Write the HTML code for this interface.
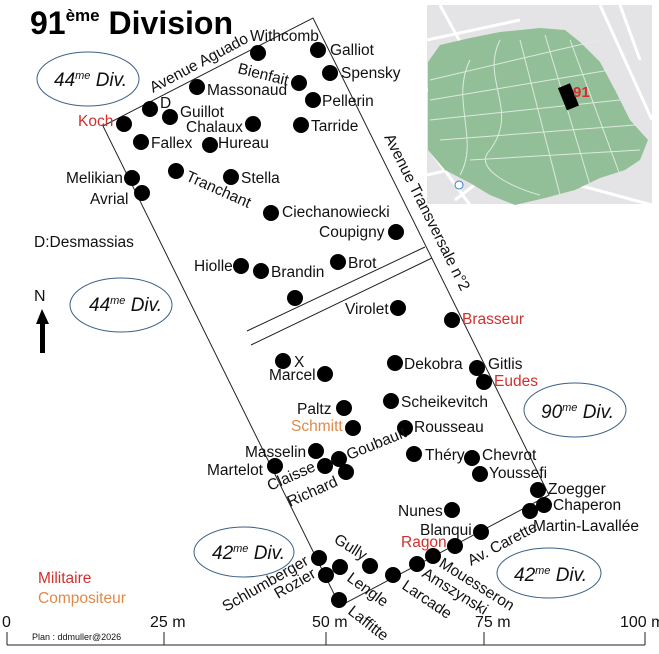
<!DOCTYPE html>
<html><head><meta charset="utf-8"><style>
html,body{margin:0;padding:0;background:#fff}
svg{display:block}
text{font-family:"Liberation Sans",sans-serif;font-size:15.5px;fill:#111}
.r{fill:#d0312d}.o{fill:#e08a4a}
</style></head><body>
<svg width="659" height="654" viewBox="0 0 659 654" xmlns="http://www.w3.org/2000/svg">
<rect width="659" height="654" fill="#fff"/>
<!-- inset map -->
<rect x="427" y="5" width="225" height="199" fill="#e4e4e6"/>
<g stroke="#fff" stroke-width="3" fill="none">
<path d="M427 40 L520 20 M430 150 L470 205 M600 5 L652 120 M427 175 L470 165 M560 180 L652 205 M440 5 L470 60 M620 5 L640 60 M427 90 L440 88 M455 200 L520 150"/>
</g>
<polygon points="428,62 440,45 470,38 500,32 540,28 565,30 580,42 600,62 615,90 630,120 648,140 640,160 625,170 600,178 575,190 545,198 515,205 490,195 470,183 445,170 428,150" fill="#93bf98"/>
<g stroke="#e3eee3" stroke-width="1" fill="none" opacity="0.9">
<path d="M430 80 L600 40 M430 100 L610 70 M430 120 L620 100 M440 140 L635 125 M470 160 L640 150 M520 40 L560 195 M545 35 L590 185 M570 40 L620 175 M500 40 C480 80 520 110 490 150 C470 170 520 190 540 195 M470 60 C450 100 480 140 460 175"/>
</g>
<rect x="562" y="85" width="13" height="24" fill="#000" transform="rotate(-22 568 97)"/>
<text x="573" y="97" style="font-size:15px;font-weight:bold;fill:#d0312d">91</text>
<circle cx="459" cy="185" r="4" fill="#fff" stroke="#3a7bd5"/>

<!-- title -->
<text x="30" y="34" style="font-size:32px;font-weight:bold;fill:#000">91<tspan dy="-13" style="font-size:17px">ème</tspan><tspan dy="13"> Division</tspan></text>

<!-- plot outline -->
<g stroke="#222" stroke-width="1" fill="none">
<path d="M103 126 L313 18 L549 495 L340 606 Z"/>
<path d="M247 331 L425 247 M251 345 L432 258"/>
</g>

<!-- ellipses -->
<g fill="none" stroke="#3d5f85" stroke-width="1">
<ellipse cx="88" cy="79" rx="51" ry="27"/>
<ellipse cx="121" cy="305" rx="51" ry="27"/>
<ellipse cx="575" cy="410" rx="51" ry="27"/>
<ellipse cx="244" cy="552" rx="50" ry="25"/>
<ellipse cx="549" cy="573" rx="52" ry="25"/>
</g>
<g>
<text x="54" y="86" style="font-size:19px;font-style:italic">44<tspan dy="-7" style="font-size:11px">me</tspan><tspan dy="7"> Div.</tspan></text>
<text x="89" y="311" style="font-size:19px;font-style:italic">44<tspan dy="-7" style="font-size:11px">me</tspan><tspan dy="7"> Div.</tspan></text>
<text x="541" y="418" style="font-size:19px;font-style:italic">90<tspan dy="-7" style="font-size:11px">me</tspan><tspan dy="7"> Div.</tspan></text>
<text x="212" y="559" style="font-size:19px;font-style:italic">42<tspan dy="-7" style="font-size:11px">me</tspan><tspan dy="7"> Div.</tspan></text>
<text x="514" y="581" style="font-size:19px;font-style:italic">42<tspan dy="-7" style="font-size:11px">me</tspan><tspan dy="7"> Div.</tspan></text>
</g>

<!-- street labels -->
<text transform="translate(153,93) rotate(-28)">Avenue Aguado</text>
<text transform="translate(384,137) rotate(63.5)">Avenue Transversale n°2</text>
<text transform="translate(471,566) rotate(-28)">Av. Carette</text>

<!-- dots -->
<g fill="#000">
<circle cx="258" cy="53" r="8"/><circle cx="318" cy="50" r="8"/><circle cx="330" cy="73" r="8"/>
<circle cx="299" cy="83" r="8"/><circle cx="313" cy="100" r="8"/><circle cx="197" cy="87" r="8"/>
<circle cx="150" cy="109" r="8"/><circle cx="170" cy="117" r="8"/><circle cx="124" cy="124" r="8"/>
<circle cx="253" cy="124" r="8"/><circle cx="301" cy="125" r="8"/><circle cx="141" cy="142" r="8"/>
<circle cx="210" cy="145" r="8"/><circle cx="132" cy="178" r="8"/><circle cx="142" cy="193" r="8"/>
<circle cx="176" cy="171" r="8"/><circle cx="231" cy="177" r="8"/><circle cx="271" cy="213" r="8"/>
<circle cx="396" cy="232" r="8"/><circle cx="241" cy="266" r="8"/><circle cx="261" cy="271" r="8"/>
<circle cx="338" cy="262" r="8"/><circle cx="295" cy="298" r="8"/><circle cx="398" cy="308" r="8"/>
<circle cx="452" cy="320" r="8"/><circle cx="283" cy="361" r="8"/><circle cx="325" cy="374" r="8"/>
<circle cx="395" cy="363" r="8"/><circle cx="477" cy="368" r="8"/><circle cx="484" cy="382" r="8"/>
<circle cx="391" cy="401" r="8"/><circle cx="344" cy="408" r="8"/><circle cx="353" cy="428" r="8"/>
<circle cx="405" cy="428" r="8"/><circle cx="316" cy="451" r="8"/><circle cx="414" cy="454" r="8"/>
<circle cx="472" cy="458" r="8"/><circle cx="275" cy="466" r="8"/><circle cx="325" cy="466" r="8"/>
<circle cx="339" cy="459" r="8"/><circle cx="346" cy="472" r="8"/><circle cx="480" cy="474" r="8"/>
<circle cx="538" cy="490" r="8"/><circle cx="544" cy="505" r="8"/><circle cx="530" cy="511" r="8"/>
<circle cx="452" cy="510" r="8"/><circle cx="481" cy="532" r="8"/><circle cx="455" cy="546" r="8"/>
<circle cx="433" cy="556" r="8"/><circle cx="417" cy="564" r="8"/><circle cx="370" cy="566" r="8"/>
<circle cx="393" cy="575" r="8"/><circle cx="319" cy="558" r="8"/><circle cx="326" cy="575" r="8"/>
<circle cx="340" cy="567" r="8"/><circle cx="339" cy="600" r="8"/>
</g>

<!-- labels -->
<text x="250" y="41">Withcomb</text>
<text x="330" y="55">Galliot</text>
<text x="341" y="78">Spensky</text>
<text transform="translate(237,73) rotate(14)">Bienfait</text>
<text x="322" y="106">Pellerin</text>
<text x="207" y="95">Massonaud</text>
<text x="160" y="108">D</text>
<text x="180" y="117">Guillot</text>
<text x="78" y="126" class="r">Koch</text>
<text x="186" y="132">Chalaux</text>
<text x="311" y="131">Tarride</text>
<text x="151" y="148">Fallex</text>
<text x="218" y="148">Hureau</text>
<text x="66" y="183">Melikian</text>
<text x="90" y="204">Avrial</text>
<text transform="translate(185,180) rotate(24)">Tranchant</text>
<text x="241" y="183">Stella</text>
<text x="282" y="217">Ciechanowiecki</text>
<text x="319" y="237">Coupigny</text>
<text x="34" y="247">D:Desmassias</text>
<text x="194" y="271">Hiolle</text>
<text x="271" y="277">Brandin</text>
<text x="348" y="268">Brot</text>
<text x="345" y="314">Virolet</text>
<text x="462" y="324" class="r">Brasseur</text>
<text x="294" y="367">X</text>
<text x="269" y="380">Marcel</text>
<text x="404" y="369">Dekobra</text>
<text x="488" y="369">Gitlis</text>
<text x="494" y="386" class="r">Eudes</text>
<text x="401" y="407">Scheikevitch</text>
<text x="297" y="414">Paltz</text>
<text x="291" y="431" class="o">Schmitt</text>
<text x="414" y="432">Rousseau</text>
<text x="245" y="457">Masselin</text>
<text x="425" y="460">Théry</text>
<text x="482" y="460">Chevrot</text>
<text x="207" y="475">Martelot</text>
<text transform="translate(270,491) rotate(-24)">Claisse</text>
<text transform="translate(290,507) rotate(-24)">Richard</text>
<text transform="translate(349,460) rotate(-22)">Goubault</text>
<text x="489" y="478">Youssefi</text>
<text x="548" y="494">Zoegger</text>
<text x="553" y="510">Chaperon</text>
<text x="533" y="531">Martin-Lavallée</text>
<text x="398" y="516">Nunes</text>
<text x="420" y="535">Blanqui</text>
<text x="401" y="547" class="r">Ragon</text>
<text transform="translate(333,542) rotate(32)">Gully</text>
<text transform="translate(346,580) rotate(36)">Lengle</text>
<text transform="translate(347,613) rotate(38)">Laffitte</text>
<text transform="translate(401,588) rotate(34)">Larcade</text>
<text transform="translate(421,576) rotate(32)">Amszynski</text>
<text transform="translate(438,566) rotate(32)">Mouesseron</text>
<text transform="translate(226,612) rotate(-30)">Schlumberger</text>
<text transform="translate(278,599) rotate(-30)">Rozier</text>

<!-- north arrow -->
<text x="34" y="301" style="font-size:16px">N</text>
<polygon points="42,309 36,324 40,324 40,353 45,353 45,324 49,324" fill="#000"/>

<!-- legend -->
<text x="38" y="583" class="r">Militaire</text>
<text x="38" y="603" class="o">Compositeur</text>

<!-- scale -->
<g stroke="#222" stroke-width="1">
<path d="M7 645 L645 645 M7 632 L7 645 M164 632 L164 645 M326 632 L326 645 M484 632 L484 645 M645 632 L645 645"/>
</g>
<text x="2" y="627" style="font-size:16px">0</text>
<text x="150" y="627" style="font-size:16px">25 m</text>
<text x="312" y="627" style="font-size:16px">50 m</text>
<text x="475" y="627" style="font-size:16px">75 m</text>
<text x="620" y="627" style="font-size:16px">100 m</text>
<text x="32" y="640" style="font-size:9px">Plan : ddmuller@2026</text>
</svg>
</body></html>
